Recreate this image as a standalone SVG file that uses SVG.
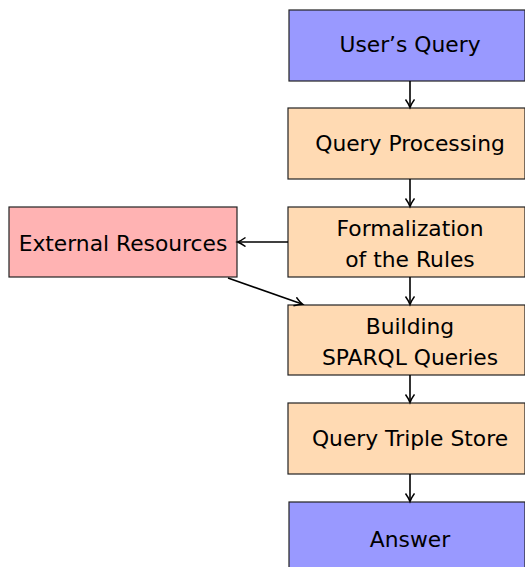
<svg xmlns="http://www.w3.org/2000/svg" width="525" height="567" viewBox="0 0 525 567">
<style>
.box{stroke:#222;stroke-width:1.2}
.blue{fill:#9999ff}
.peach{fill:#ffdab3}
.red{fill:#ffb3b3}
text{font-family:"DejaVu Sans","Liberation Sans",sans-serif;font-size:21.8px;fill:#000;text-anchor:middle}
.conn{stroke:#000;stroke-width:1.6;fill:none;marker-end:url(#ah)}
</style>
<defs>
<marker id="ah" markerWidth="12" markerHeight="12" refX="8" refY="5" orient="auto" markerUnits="userSpaceOnUse">
<path d="M0.5,0.5 Q5,3.8 8.5,5 Q5,6.2 0.5,9.5" fill="none" stroke="#000" stroke-width="1.5"/>
</marker>
</defs>
<g id="users-query"><rect class="box blue" x="289" y="10" width="236" height="71"/><text x="410" y="52">User’s Query</text></g>
<g id="query-processing"><rect class="box peach" x="288" y="108" width="237" height="71"/><text x="410" y="151">Query Processing</text></g>
<g id="formalization"><rect class="box peach" x="288" y="207" width="237" height="70"/><text x="410" y="236">Formalization</text><text x="410" y="267">of the Rules</text></g>
<g id="external-resources"><rect class="box red" x="9" y="207" width="228" height="70"/><text x="123" y="251">External Resources</text></g>
<g id="building"><rect class="box peach" x="288" y="305" width="237" height="70"/><text x="410" y="334">Building</text><text x="410" y="365">SPARQL Queries</text></g>
<g id="query-triple-store"><rect class="box peach" x="288" y="403" width="237" height="71"/><text x="410" y="446">Query Triple Store</text></g>
<g id="answer"><rect class="box blue" x="289" y="502" width="236" height="70"/><text x="410" y="547">Answer</text></g>
<g id="connectors">
<line class="conn" x1="410" y1="81" x2="410" y2="107"/>
<line class="conn" x1="410" y1="179" x2="410" y2="206"/>
<line class="conn" x1="410" y1="277" x2="410" y2="304"/>
<line class="conn" x1="410" y1="375" x2="410" y2="402"/>
<line class="conn" x1="410" y1="474" x2="410" y2="501"/>
<line class="conn" x1="288" y1="242" x2="238" y2="242"/>
<line class="conn" x1="228" y1="278" x2="302" y2="304"/>
</g>
</svg>
